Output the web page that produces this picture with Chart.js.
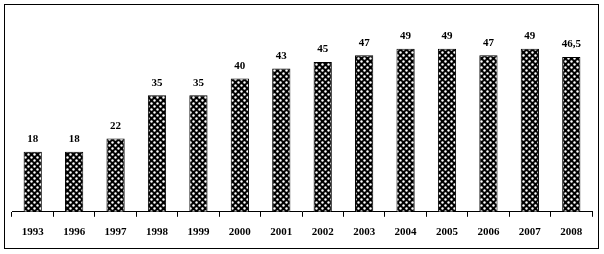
<!DOCTYPE html>
<html>
<head>
<meta charset="utf-8">
<script src="https://cdn.jsdelivr.net/npm/chart.js@4"></script>
<style>
  html, body { margin: 0; padding: 0; background: #fff; }
  #wrap { position: relative; width: 604px; height: 254px; }
</style>
</head>
<body>
<div id="wrap"><canvas id="anosChart" width="604" height="254"></canvas></div>
<script>
const anos = ['1993', '1996', '1997', '1998', '1999', '2000', '2001', '2002', '2003', '2004', '2005', '2006', '2007', '2008'];
const valores = [18, 18, 22, 35, 35, 40, 43, 45, 47, 49, 49, 47, 49, 46.5];
const rotulos = ['18', '18', '22', '35', '35', '40', '43', '45', '47', '49', '49', '47', '49', '46,5'];
const escalaMax = 60;

// padrão de bolinhas, parecido com o preenchimento do Excel
function criaPadrao() {
    const c = document.createElement('canvas');
    c.width = 6; c.height = 6;
    const g = c.getContext('2d');
    g.fillStyle = '#000';
    g.fillRect(0, 0, 6, 6);
    g.fillStyle = '#fff';
    [[1.5, 1.5], [4.5, 4.5]].forEach(p => {
        g.beginPath();
        g.arc(p[0], p[1], 1.2, 0, Math.PI * 2);
        g.fill();
    });
    return g.createPattern(c, 'repeat');
}

// moldura externa e rótulos de valor
const extras = {
    id: 'extras',
    afterDraw(chart) {
        const ctx = chart.ctx;
        ctx.save();
        ctx.strokeStyle = '#000';
        ctx.lineWidth = 1;
        ctx.strokeRect(4.5, 4.5, 594, 244);
        ctx.fillStyle = '#000';
        ctx.font = 'bold 11px "Liberation Serif"';
        ctx.textAlign = 'center';
        ctx.textBaseline = 'bottom';
        chart.getDatasetMeta(0).data.forEach((bar, i) => {
            ctx.fillText(rotulos[i], bar.x, bar.y - 7);
        });
        ctx.restore();
    }
};

const ctx = document.getElementById('anosChart').getContext('2d');
const anosChart = new Chart(ctx, {
    type: 'bar',
    data: {
        labels: anos,
        datasets: [{
            data: valores,
            backgroundColor: criaPadrao(),
            borderColor: '#000',
            borderWidth: 1,
            categoryPercentage: 1,
            barPercentage: 0.44
        }]
    },
    options: {
        responsive: false,
        animation: false,
        layout: { padding: { left: 12, right: 12, top: 12, bottom: 6 } },
        plugins: { legend: { display: false }, tooltip: { enabled: false } },
        scales: {
            x: {
                offset: true,
                border: { display: true, color: '#000', width: 1 },
                grid: { display: true, drawOnChartArea: false, offset: true, color: '#000', tickLength: 5 },
                ticks: { color: '#000', padding: 9, font: { family: 'Liberation Serif', weight: 'bold', size: 11 } }
            },
            y: {
                display: false,
                min: 0,
                max: escalaMax
            }
        }
    },
    plugins: [extras]
});
</script>
</body>
</html>
